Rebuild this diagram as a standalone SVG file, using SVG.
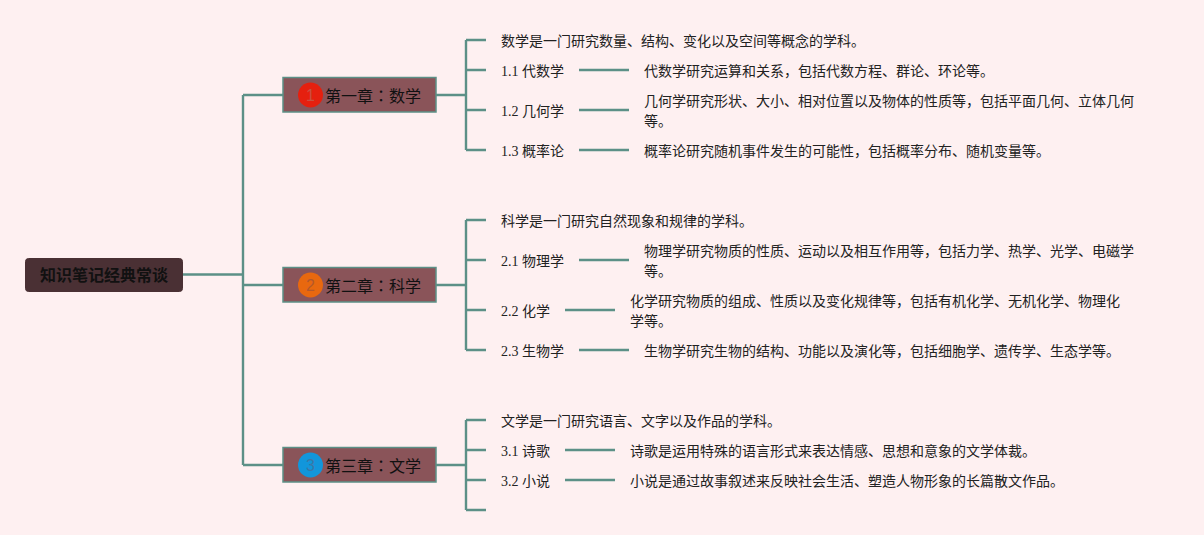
<svg xmlns="http://www.w3.org/2000/svg" width="1204" height="535" viewBox="0 0 1204 535">
<style>
text{font-family:"Liberation Serif","Noto Sans CJK SC",serif;font-size:14px;fill:#222}
.h{font-family:"Noto Sans CJK SC",sans-serif;font-size:16px;fill:#111}
.h tspan{font-family:"Noto Sans CJK TC",sans-serif}
.r{font-family:"Noto Sans CJK SC",sans-serif;font-size:16px;font-weight:700;fill:#111}
.n{font-family:"Liberation Sans",sans-serif;font-size:16px;text-anchor:middle}
.c{fill:#8a5459;stroke:#5c9087;stroke-width:1.5}
#connectors path{fill:none;stroke:#5c9087;stroke-width:2.4}
</style>
<rect width="1204" height="535" fill="#fef0f1"/>
<g id="connectors">
<path d="M183 274.500H243M243 95V465M243 95H283M243 285H283M243 465H283"/>
<path d="M436 95H466M466 40V150M466 40H486M466 70H486M466 110H486M466 150H486"/>
<path d="M579 70H629M579 110H629M579 150H629"/>
<path d="M436 285H466M466 220V350M466 220H486M466 260H486M466 310H486M466 350H486"/>
<path d="M579 260H629M565 310H615M579 350H629"/>
<path d="M436 465H466M466 420V510M466 420H486M466 450H486M466 480H486M466 510H486"/>
<path d="M565 450H615M565 480H615"/>
</g>
<g id="root"><rect x="25.500" y="258.500" width="157" height="33" rx="3" fill="#4a3034" stroke="#4a3034"/><text class="r" x="40" y="281">知识笔记经典常谈</text></g>
<g id="ch1"><rect class="c" x="283" y="77.500" width="153" height="34.500"/><circle cx="310.500" cy="95" r="12.500" fill="#e5200f"/><text class="n" x="310.500" y="100.500" style="fill:#c95040">1</text><text class="h" x="325" y="102">第一章<tspan>：</tspan>数学</text></g>
<g id="ch2"><rect class="c" x="283" y="267.500" width="153" height="34.500"/><circle cx="310.500" cy="285" r="12.500" fill="#e8680f"/><text class="n" x="310.500" y="290.500" style="fill:#b5582a">2</text><text class="h" x="325" y="292">第二章<tspan>：</tspan>科学</text></g>
<g id="ch3"><rect class="c" x="283" y="447.500" width="153" height="34.500"/><circle cx="310.500" cy="465" r="12.500" fill="#1296db"/><text class="n" x="310.500" y="470.500" style="fill:#3a78a8">3</text><text class="h" x="325" y="472">第三章<tspan>：</tspan>文学</text></g>
<g id="n1-0"><text x="501" y="46">数学是一门研究数量、结构、变化以及空间等概念的学科。</text></g>
<g id="n1-1"><text x="501" y="76">1.1 代数学</text></g>
<g id="n1-1d"><text x="644" y="76">代数学研究运算和关系，包括代数方程、群论、环论等。</text></g>
<g id="n1-2"><text x="501" y="116">1.2 几何学</text></g>
<g id="n1-2d"><text x="644" y="106">几何学研究形状、大小、相对位置以及物体的性质等，包括平面几何、立体几何</text><text x="644" y="126">等。</text></g>
<g id="n1-3"><text x="501" y="156">1.3 概率论</text></g>
<g id="n1-3d"><text x="644" y="156">概率论研究随机事件发生的可能性，包括概率分布、随机变量等。</text></g>
<g id="n2-0"><text x="501" y="226">科学是一门研究自然现象和规律的学科。</text></g>
<g id="n2-1"><text x="501" y="266">2.1 物理学</text></g>
<g id="n2-1d"><text x="644" y="256">物理学研究物质的性质、运动以及相互作用等，包括力学、热学、光学、电磁学</text><text x="644" y="276">等。</text></g>
<g id="n2-2"><text x="501" y="316">2.2 化学</text></g>
<g id="n2-2d"><text x="630" y="306">化学研究物质的组成、性质以及变化规律等，包括有机化学、无机化学、物理化</text><text x="630" y="326">学等。</text></g>
<g id="n2-3"><text x="501" y="356">2.3 生物学</text></g>
<g id="n2-3d"><text x="644" y="356">生物学研究生物的结构、功能以及演化等，包括细胞学、遗传学、生态学等。</text></g>
<g id="n3-0"><text x="501" y="426">文学是一门研究语言、文字以及作品的学科。</text></g>
<g id="n3-1"><text x="501" y="456">3.1 诗歌</text></g>
<g id="n3-1d"><text x="630" y="456">诗歌是运用特殊的语言形式来表达情感、思想和意象的文学体裁。</text></g>
<g id="n3-2"><text x="501" y="486">3.2 小说</text></g>
<g id="n3-2d"><text x="630" y="486">小说是通过故事叙述来反映社会生活、塑造人物形象的长篇散文作品。</text></g>
</svg>
